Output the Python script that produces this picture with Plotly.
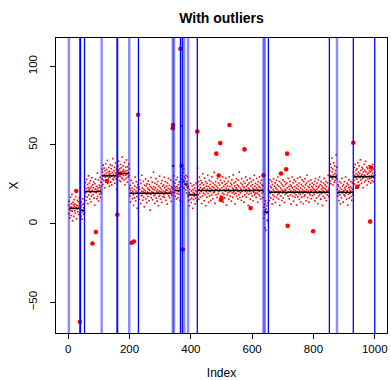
import plotly.graph_objects as go

# ---- series values (index 1..1000) ----
vals_001_100 = [
    11.8, 6.4, 14.2, 9.1, 3.7, 10.6, 16.9, 8.3, 5.2, 12.7,
    10.4, 18.6, 7.9, 1.8, 13.5, 9.7, 11.9, 4.6, 15.3, 10.8,
    8.2, 12.4, 6.7, 17.1, 10.3, 20.8, 3.1, 11.6, 9.4, 14.8,
    7.5, 11.2, 13.9, 5.8, 9.9, 16.4, 12.3, -62.4, 13.5, 6.6,
    10.9, 4.8, 13.7, 8.6, 2.9, 12.1, 15.8, 7.4, 10.2, 5.9,
    12.6, 9.3, 6.8, 23.6, 17.4, 26.2, 19.5, 14.7, 22.3, 28.1,
    20.6, 16.9, 24.8, 12.7, 22.9, 30.4, 18.2, 21.5, 25.7, 15.6,
    22.4, 27.3, 19.8, 13.9, 23.6, 17.5, 29.2, 21.1, -12.6, 24.7,
    18.4, 22.8, 26.5, 16.2, 20.3, 11.7, 25.4, 21.9, 28.3, -5.3,
    19.6, 23.7, 15.8, 21.4, 32.1, 17.3, 22.6, 27.8, 14.4, 20.9,
]
vals_101_200 = [
    24.5, 18.7, 23.1, 29.4, 16.6, 21.8, 26.3, 19.2, 23.9, 34.6,
    28.4, 32.7, 24.9, 37.2, 30.5, 27.6, 35.3, 31.2, 22.8, 33.6,
    29.5, 38.1, 26.7, 31.9, 34.4, 27.1, 30.3, 40.2, 25.6, 32.8,
    28.9, 35.7, 31.4, 23.8, 33.2, 29.6, 37.5, 31.8, 26.4, 34.9,
    30.2, 24.6, 36.8, 32.5, 28.3, 41.3, 31.1, 27.9, 33.7, 29.4,
    35.8, 25.7, 32.2, 38.6, 30.7, 28.5, 34.6, 21.9, 33.1, 5.7,
    31.6, 36.4, 29.8, 33.9, 39.7, 31.9, 27.4, 34.8, 30.1, 37.6,
    26.8, 32.9, 35.5, 29.2, 31.3, 42.4, 28.6, 33.4, 36.7, 30.6,
    34.3, 27.7, 32.4, 38.9, 24.7, 33.3, 30.8, 35.9, 28.8, 40.5,
    31.5, 33.8, 26.3, 36.2, 29.7, 32.6, 37.8, 30.4, 34.7, 22.4,
]
vals_201_300 = [
    17.6, 24.3, 13.8, 21.2, 27.5, 19.4, -12.1, 22.7, 15.9, 20.5,
    25.8, 18.3, 11.6, -11.3, 21.7, 16.4, 23.8, 29.6, 19.1, 14.5,
    20.8, 26.6, 17.2, 22.9, 9.8, 19.9, 24.7, 69.2, 21.3, 18.6,
    23.5, 15.4, 21.9, 27.7, 19.3, 12.8, 25.6, 17.7, 20.6, 30.8,
    18.1, 22.6, 14.9, 20.2, 26.9, 16.8, 21.6, 10.7, 24.4, 19.5,
    20.9, 28.4, 15.7, 23.9, 18.6, 13.4, 25.3, 20.1, 22.5, 17.3,
    27.2, 19.2, 21.8, 14.6, 24.8, 21.1, 8.6, 23.6, 18.7, 29.3,
    16.5, 22.8, 20.3, 26.4, 15.2, 21.9, 19.6, 32.7, 23.4, 17.8,
    21.4, 12.9, 25.7, 18.5, 22.7, 28.6, 16.3, 20.4, 24.9, 14.3,
    21.6, 26.8, 19.7, 11.4, 23.8, 17.4, 20.7, 30.2, 18.2, 22.8,
]
vals_301_400 = [
    15.6, 20.3, 25.5, 21.7, 13.6, 27.4, 19.4, 23.7, 17.1, 20.8,
    24.6, 18.4, 29.5, 16.7, 22.9, 20.2, 26.6, 14.8, 21.5, 19.7,
    23.9, 21.2, 12.4, 25.8, 18.8, 22.4, 28.7, 17.6, 20.1, 24.3,
    16.3, 21.8, 19.2, 27.6, 20.7, 14.2, 23.5, 18.1, 22.6, 19.9,
    60.6, 62.7, 26.5, 22.1, 30.4, 23.8, 19.6, 25.7, 17.4, 22.9,
    21.3, 27.9, 15.6, 23.6, 19.2, 29.4, 22.4, 16.5, 24.8, 20.3,
    18.7, 26.6, 22.8, 14.9, 21.7, 111.2, 13.8, 28.4, 23.7, 36.8,
    26.2, 30.5, 23.3, -16.4, 32.6, 27.8, 34.7, 22.5, 29.6, 26.9,
    25.1, 28.7, 21.4, 30.6, 24.3, 19.5, 26.8, 23.2, 29.9, 22.6,
    17.2, 23.8, 14.6, 19.9, 11.3, 21.7, 18.9, 15.4, 25.6, 18.3,
]
vals_401_500 = [
    13.4, 20.8, 16.2, 23.9, 18.6, 9.7, 21.6, 19.8, 15.3, 24.7,
    17.5, 19.3, 22.7, 12.6, 20.9, 16.1, 25.8, 18.4, 14.2, 20.4,
    58.5, 35.2, 23.6, 18.4, 26.7, 15.5, 21.8, 29.6, 19.3, 24.8,
    16.7, 22.9, 27.4, 20.5, 12.8, 25.9, 21.3, 17.6, 31.7, 22.2,
    19.4, 24.7, 14.6, 22.8, 28.9, 18.5, 21.2, 26.6, 11.4, 23.8,
    20.3, 16.8, 25.6, 21.9, 30.7, 19.2, 23.7, 13.5, 20.8, 27.6,
    17.7, 22.6, 24.9, 20.4, 14.7, 26.8, 21.6, 18.3, 29.8, 23.5,
    21.1, 15.8, 25.7, 19.6, 22.9, 32.6, 20.2, 24.6, 12.9, 21.8,
    26.7, 18.2, 44.5, 23.8, 16.6, 21.4, 28.7, 22.7, 19.1, 25.8,
    30.6, 20.4, 14.8, 24.6, 21.9, 51.2, 27.5, 17.7, 15.1, 16.2,
]
vals_501_600 = [
    22.8, 25.9, 19.4, 29.7, 21.2, 13.6, 23.7, 18.6, 26.8, 21.6,
    16.4, 24.8, 20.6, 28.9, 22.7, 11.8, 25.6, 21.3, 18.2, 23.9,
    19.7, 26.9, 21.8, 15.4, 29.8, 62.7, 20.3, 23.6, 17.5, 25.7,
    20.9, 14.3, 24.7, 27.8, 19.5, 22.6, 16.7, 30.9, 21.7, 20.2,
    25.8, 18.7, 23.9, 12.5, 21.4, 26.7, 19.3, 22.8, 28.6, 17.4,
    21.9, 24.6, 15.7, 20.4, 27.6, 23.8, 18.4, 32.8, 20.7, 16.6,
    22.7, 19.6, 25.8, 21.7, 14.8, 28.7, 20.6, 24.9, 17.3, 23.6,
    21.2, 26.8, 13.7, 22.9, 47.2, 18.3, 25.7, 20.5, 29.7, 21.8,
    16.8, 23.8, 19.5, 27.7, 20.9, 24.7, 11.6, 22.6, 18.6, 25.9,
    21.7, 20.3, 28.8, 15.6, 9.9, 23.9, 19.2, 26.7, 21.1, 17.6,
]
vals_601_700 = [
    24.8, 22.7, 14.6, 27.8, 20.1, 21.9, 30.7, 18.4, 23.8, 19.5,
    25.6, 21.3, 16.7, 22.8, 28.7, 19.4, 24.8, 13.6, 21.8, 26.7,
    18.5, 23.7, 20.4, 29.8, 17.6, 22.9, 25.8, 15.7, 21.2, 27.6,
    19.3, 24.7, 21.8, 16.6, 23.9, 20.2, 30.8, 3.6, 10.4, 5.7,
    12.3, -2.8, 8.4, 14.6, -4.3, 9.2, 6.5, 11.4, 2.2, 13.1,
    7.3, 1.4, 21.8, 17.4, 25.7, 14.6, 20.9, 27.8, 19.3, 23.7,
    16.4, 22.8, 20.2, 26.7, 12.6, 24.8, 18.3, 21.7, 15.4, 28.6,
    20.8, 17.3, 23.8, 19.6, 25.9, 13.5, 22.7, 20.3, 27.6, 16.7,
    21.9, 24.7, 18.4, 29.7, 20.8, 15.6, 23.8, 19.2, 26.8, 11.7,
    20.4, 22.7, 17.6, 31.9, 25.8, 21.6, 14.7, 24.6, 19.4, 20.9,
]
vals_701_800 = [
    27.8, 16.3, 23.7, 20.2, 13.4, 26.7, 21.8, 18.6, 24.9, 21.2,
    34.6, 19.3, 25.8, 44.5, 22.7, -1.4, 17.4, 28.8, 20.1, 23.6,
    15.7, 21.8, 26.9, 18.2, 24.6, 20.7, 12.4, 23.8, 19.6, 29.7,
    22.8, 17.5, 20.4, 25.9, 14.3, 21.7, 27.8, 19.2, 23.6, 16.8,
    20.9, 26.7, 18.4, 22.6, 11.8, 24.7, 20.3, 28.8, 17.2, 21.9,
    23.7, 19.5, 25.8, 15.4, 20.8, 29.6, 18.6, 22.7, 13.8, 24.8,
    20.2, 16.7, 27.8, 21.6, 19.3, 23.9, 12.7, 26.8, 20.7, 17.4,
    22.9, 28.6, 18.3, 24.7, 20.4, 14.6, 25.8, 21.7, 30.8, 19.5,
    16.6, 23.8, 20.7, 26.9, 13.7, 22.8, 19.4, 24.9, 18.3, 21.6,
    27.7, 20.3, 15.8, 23.6, 21.2, 25.7, 17.8, 22.9, -4.8, 19.6,
]
vals_801_900 = [
    24.7, 21.8, 18.6, 26.8, 14.5, 20.9, 28.7, 20.2, 23.8, 16.4,
    21.7, 25.8, 19.5, 12.7, 22.8, 27.9, 17.6, 23.7, 20.6, 29.6,
    18.7, 24.8, 20.3, 15.6, 26.7, 21.8, 19.2, 23.9, 11.6, 22.7,
    20.9, 17.4, 25.8, 20.2, 28.8, 22.6, 16.3, 24.7, 19.4, 21.8,
    26.8, 14.6, 23.7, 20.7, 18.4, 25.9, 20.1, 30.7, 21.6, 17.3,
    22.8, 19.4, 33.7, 27.2, 37.8, 30.6, 25.4, 35.7, 29.3, 41.6,
    32.8, 28.4, 34.7, 24.6, 30.9, 38.6, 29.8, 26.3, 36.7, 31.8,
    27.4, 33.8, 29.2, 43.6, 30.7, 35.8, 28.3, 21.8, 17.6, 24.7,
    19.3, 23.8, 14.7, 20.9, 26.8, 18.4, 22.7, 12.6, 20.3, 25.8,
    16.4, 21.7, 28.8, 19.5, 23.9, 20.2, 13.7, 24.8, 20.8, 18.3,
]
vals_901_1000 = [
    26.7, 22.8, 17.4, 21.6, 29.7, 19.2, 23.8, 15.6, 20.9, 25.7,
    20.4, 11.8, 24.7, 18.6, 22.9, 27.8, 16.3, 21.7, 19.4, 23.6,
    20.8, 26.7, 17.3, 22.6, 14.8, 20.2, 25.9, 18.4, 21.8, 51.4,
    32.7, 27.4, 35.8, 30.6, 25.2, 37.7, 29.4, 33.8, 22.6, 31.7,
    28.3, 34.8, 23.5, 30.9, 38.7, 26.4, 32.8, 30.2, 36.7, 24.6,
    31.8, 29.3, 40.6, 27.7, 33.9, 30.4, 25.6, 35.8, 31.2, 28.6,
    34.7, 22.8, 32.9, 29.4, 37.8, 30.8, 26.5, 33.7, 30.3, 39.6,
    27.6, 32.8, 29.7, 35.9, 24.6, 31.3, 34.8, 28.4, 32.2, 26.7,
    36.8, 30.2, 33.6, 28.7, 1.3, 32.9, 25.8, 35.7, 30.6, 29.2,
    33.8, 27.3, 31.9, 37.6, 30.4, 26.6, 34.7, 29.1, 32.7, 30.8,
]

# indices flagged as outliers (drawn as large dots)
outlier_idx = [26, 38, 79, 90, 126, 160, 166, 207, 214, 228, 341, 342, 366, 370,
               374, 421, 483, 491, 496, 499, 500, 526, 575, 595, 637, 694, 711,
               714, 716, 799, 930, 943, 985, 988]

# segment means (black horizontal segments)
seg_start = [4, 38, 39, 54, 109, 160, 199, 228, 338, 346, 366, 372, 380, 390, 421, 422, 637, 652, 852, 877, 930]
seg_end   = [37, 39.5, 54, 109, 160, 199, 338, 229.5, 346, 366, 371, 380, 390, 421, 422.5, 637, 652, 852, 877, 930, 1000]
seg_mean  = [9.7, -24, 8.4, 20.4, 30.4, 31.9, 19.3, 45, 36.7, 21, 62.3, 26.7, 25.2, 18.3, 46.8, 21, 7.4, 19.9, 29.8, 19.9, 29.8]

# change points (vertical lines)
cp_light = [2, 109, 160, 199, 341, 345, 378, 391, 637, 641, 877]
cp_dark = [38, 40, 53, 160, 229, 366, 372, 421, 653, 852, 930, 1000]

x_ticks = [0, 200, 400, 600, 800, 1000]
y_ticks = [-50, 0, 50, 100]

values = (vals_001_100 + vals_101_200 + vals_201_300 + vals_301_400 + vals_401_500
          + vals_501_600 + vals_601_700 + vals_701_800 + vals_801_900 + vals_901_1000)
index = list(range(1, len(values) + 1))

FONT = "Liberation Sans, Arial, Helvetica, sans-serif"

fig = go.Figure()
fig.add_trace(go.Scatter(
    x=index, y=values, mode="markers",
    marker=dict(color="#FF0000", size=1.6, symbol="square", line=dict(width=0)),
    hoverinfo="skip"))
fig.add_trace(go.Scatter(
    x=outlier_idx, y=[values[i - 1] for i in outlier_idx], mode="markers",
    marker=dict(color="#FF0000", size=4.6, line=dict(width=0)),
    hoverinfo="skip"))

seg_x, seg_y = [], []
for s, e, m in zip(seg_start, seg_end, seg_mean):
    seg_x += [s, e, None]
    seg_y += [m, m, None]
fig.add_trace(go.Scatter(x=seg_x, y=seg_y, mode="lines",
                         line=dict(color="black", width=1.5), hoverinfo="skip"))

for v in cp_light:
    fig.add_shape(type="line", xref="x", yref="paper", x0=v, x1=v, y0=0, y1=1,
                  line=dict(color="rgba(0,0,255,0.45)", width=2.5), layer="above")
for v in cp_dark:
    fig.add_shape(type="line", xref="x", yref="paper", x0=v, x1=v, y0=0, y1=1,
                  line=dict(color="#0000FF", width=1.3), layer="above")

fig.update_layout(
    width=391, height=380,
    margin=dict(l=56, r=3, t=38, b=44),
    paper_bgcolor="white", plot_bgcolor="white",
    showlegend=False,
    font=dict(family=FONT, size=11.5, color="black"),
    title=dict(text="<b>With outliers</b>", x=0.5, xref="paper", xanchor="center",
               y=1 - 18 / 380, yref="container", yanchor="middle",
               font=dict(family=FONT, size=14, color="black")),
    xaxis=dict(range=[-40, 1040], tickvals=x_ticks, ticktext=[str(t) for t in x_ticks],
               ticks="outside", ticklen=5, tickcolor="black", tickwidth=1,
               showline=True, linecolor="black", linewidth=1, mirror=True,
               showgrid=False, zeroline=False,
               title=dict(text="Index", standoff=14, font=dict(size=12))),
    yaxis=dict(range=[-69.5, 118], tickvals=y_ticks, ticktext=["\u221250", "0", "50", "100"],
               tickangle=-90, ticklabelstandoff=8,
               ticks="outside", ticklen=5, tickcolor="black", tickwidth=1,
               showline=True, linecolor="black", linewidth=1, mirror=True,
               showgrid=False, zeroline=False,
               title=dict(text="X", standoff=6, font=dict(size=12))),
)

fig.write_html("out.html", config={"displayModeBar": False},
               post_script="document.body.style.margin='0';")
